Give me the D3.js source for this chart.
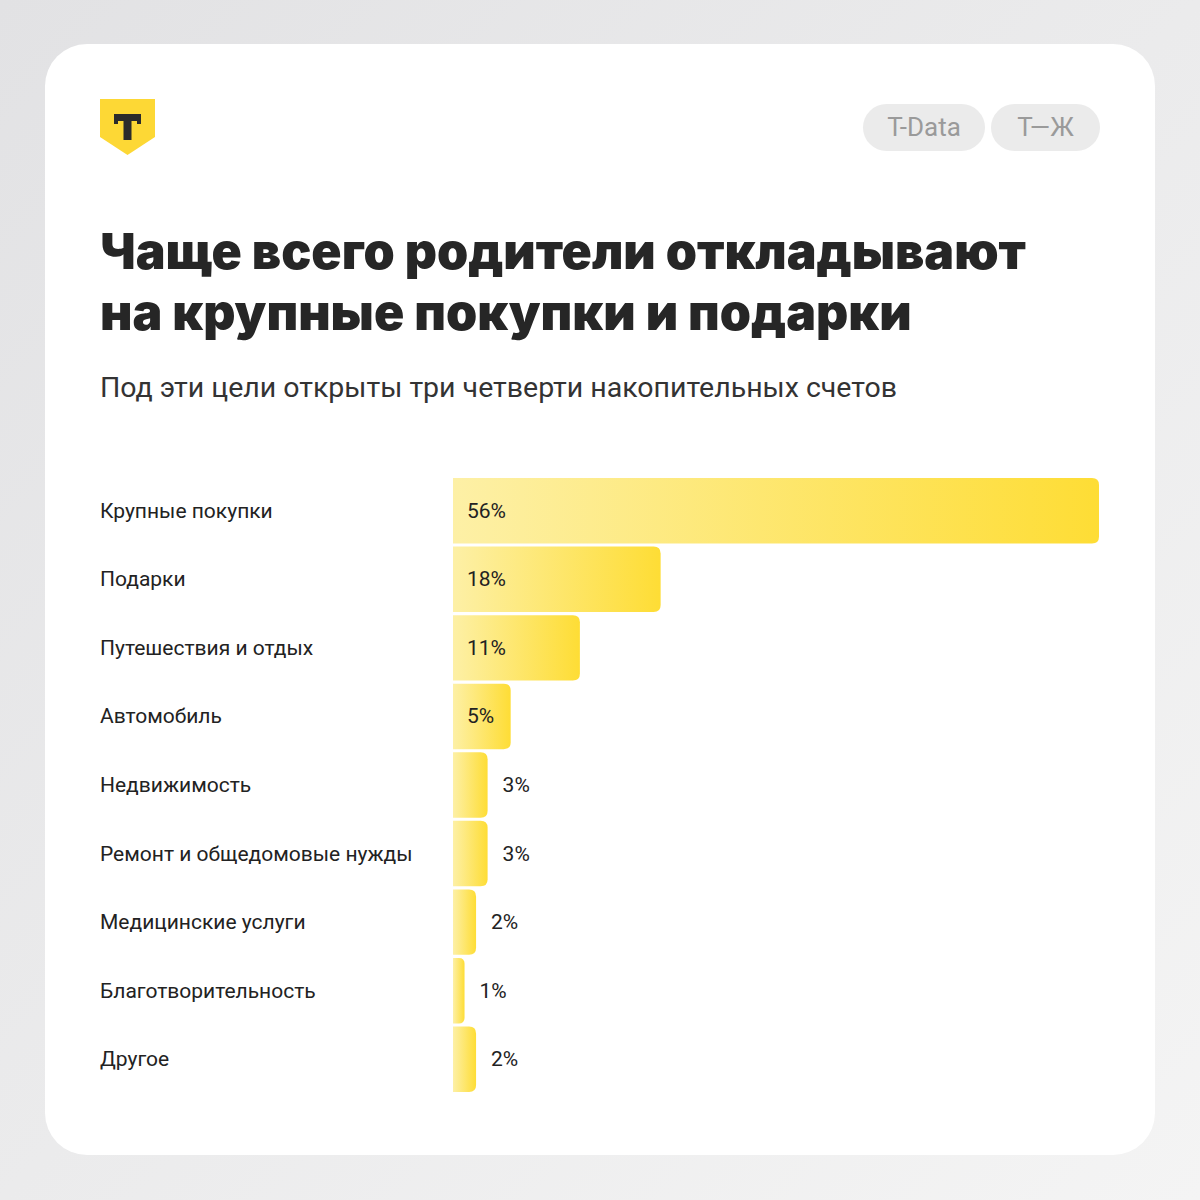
<!DOCTYPE html>
<html>
<head>
<meta charset="utf-8">
<script src="https://cdn.jsdelivr.net/npm/d3@7"></script>
<style>
  html, body { margin: 0; padding: 0; }
  body { width: 1200px; height: 1200px; overflow: hidden; }
</style>
</head>
<body>
<script>
const categories = [
  "Крупные покупки",
  "Подарки",
  "Путешествия и отдых",
  "Автомобиль",
  "Недвижимость",
  "Ремонт и общедомовые нужды",
  "Медицинские услуги",
  "Благотворительность",
  "Другое"
];
const values = [56, 18, 11, 5, 3, 3, 2, 1, 2];
const titleLines = ["Чаще всего родители откладывают", "на крупные покупки и подарки"];
const subtitle = "Под эти цели открыты три четверти накопительных счетов";
const tags = ["T-Data", "Т—Ж"];

const W = 1200, H = 1200;
const svg = d3.select("body").append("svg")
  .attr("width", W).attr("height", H);

const defs = svg.append("defs");
const bg = defs.append("linearGradient").attr("id", "bg")
  .attr("x1", 0).attr("y1", 0).attr("x2", 1).attr("y2", 1);
bg.append("stop").attr("offset", 0).attr("stop-color", "#e2e2e4");
bg.append("stop").attr("offset", 1).attr("stop-color", "#f4f4f4");

const barGrad = defs.append("linearGradient").attr("id", "bar")
  .attr("x1", 0).attr("y1", 0).attr("x2", 1).attr("y2", 0);
barGrad.append("stop").attr("offset", 0).attr("stop-color", "#fdf0a6");
barGrad.append("stop").attr("offset", 1).attr("stop-color", "#fedd35");

svg.append("rect").attr("width", W).attr("height", H).attr("fill", "url(#bg)");

// card
svg.append("rect")
  .attr("x", 45).attr("y", 44).attr("width", 1110).attr("height", 1111)
  .attr("rx", 42).attr("fill", "#ffffff");

// logo shield
const logo = svg.append("g").attr("transform", "translate(100,99)");
logo.append("path")
  .attr("d", "M0,0 H55 V38 L27.5,56 L0,38 Z")
  .attr("fill", "#fdd835");
logo.append("path")
  .attr("d", "M14,15 H41 V25 H37 V22 H31.5 V41 H23.5 V22 H18 V25 H14 Z")
  .attr("fill", "#2b2b2b");

// tag pills
const pillX = [863, 991], pillW = [122, 109];
tags.forEach((t, i) => {
  svg.append("rect")
    .attr("x", pillX[i]).attr("y", 104).attr("width", pillW[i]).attr("height", 47)
    .attr("rx", 23.5).attr("fill", "#ebebeb");
  svg.append("text")
    .attr("x", pillX[i] + pillW[i] / 2).attr("y", 136)
    .attr("text-anchor", "middle")
    .attr("font-family", "Roboto")
    .attr("font-size", 26)
    .attr("fill", "#9a9a9a")
    .text(t);
});

// title
svg.append("g").selectAll("text")
  .data(titleLines)
  .join("text")
  .attr("x", 100)
  .attr("y", (d, i) => 269 + i * 61)
  .attr("font-family", "Inter")
  .attr("font-weight", 900)
  .attr("font-size", 50)
  .attr("fill", "#262626")
  .text(d => d);

svg.append("text")
  .attr("x", 100).attr("y", 397)
  .attr("font-family", "Roboto")
  .attr("font-size", 28.5)
  .attr("fill", "#333333")
  .text(subtitle);

// chart
const x = d3.scaleLinear().domain([0, 56]).range([453, 1099]);
const y = d3.scaleBand().domain(categories).range([478, 1092]).paddingInner(0.045);

function barPath(x0, y0, w, h, r) {
  r = Math.min(r, w / 2);
  const p = d3.path();
  p.moveTo(x0, y0);
  p.lineTo(x0 + w - r, y0);
  p.quadraticCurveTo(x0 + w, y0, x0 + w, y0 + r);
  p.lineTo(x0 + w, y0 + h - r);
  p.quadraticCurveTo(x0 + w, y0 + h, x0 + w - r, y0 + h);
  p.lineTo(x0, y0 + h);
  p.closePath();
  return p.toString();
}

const rows = svg.append("g").selectAll("g")
  .data(categories.map((c, i) => ({ c, v: values[i] })))
  .join("g");

rows.append("path")
  .attr("d", d => barPath(x(0), y(d.c), x(d.v) - x(0), y.bandwidth(), 7))
  .attr("fill", "url(#bar)");

rows.append("text")
  .attr("x", 100)
  .attr("y", d => y(d.c) + y.bandwidth() / 2 + 7)
  .attr("font-family", "Roboto")
  .attr("font-size", 21)
  .attr("fill", "#222222")
  .text(d => d.c);

rows.append("text")
  .attr("x", d => d.v >= 5 ? x(0) + 14 : x(d.v) + 15)
  .attr("y", d => y(d.c) + y.bandwidth() / 2 + 7)
  .attr("font-family", "Roboto")
  .attr("font-size", 21)
  .attr("fill", "#222222")
  .text(d => d.v + "%");
</script>
</body>
</html>
